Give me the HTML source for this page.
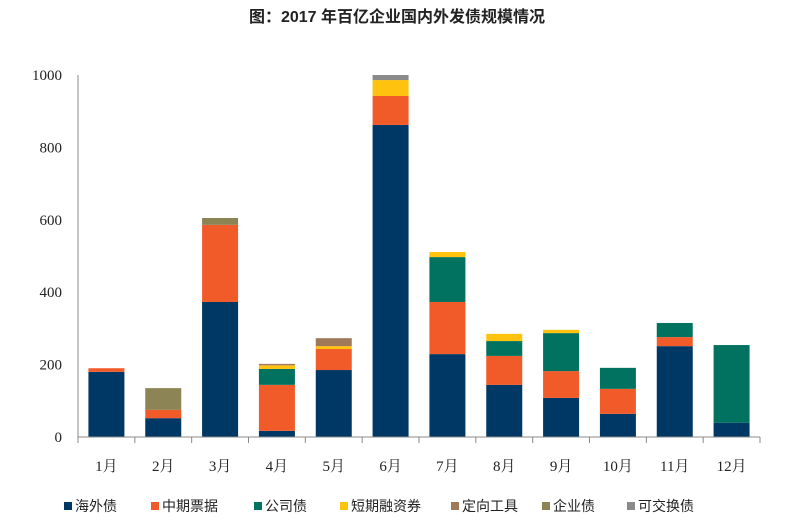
<!DOCTYPE html>
<html><head><meta charset="utf-8"><style>
body{margin:0;background:#fff;}
svg{display:block;font-family:"Liberation Serif","Noto Serif CJK SC",serif;}
</style></head><body>
<svg id="c" width="794" height="529">
<text x="397" y="22" text-anchor="middle" font-size="16" font-weight="bold" fill="#222" font-family="Liberation Sans,Noto Sans CJK SC,sans-serif">图：2017 年百亿企业国内外发债规模情况</text>
</svg>
<script>
const categories=["1月","2月","3月","4月","5月","6月","7月","8月","9月","10月","11月","12月"];
const seriesNames=["海外债","中期票据","公司债","短期融资券","定向工具","企业债","可交换债"];
const overseas=[180,52,373,17,185,862,229,144,108,64,251,39];
const mtn=[10,23,213,127,58,80,144,80,74,69,25,0];
const corp=[0,0,0,44,0,0,124,41,105,58,39,215];
const cp=[0,0,0,10,8,44,14,20,9,0,0,0];
const ppn=[0,0,0,4,22,0,0,0,0,0,0,0];
const ent=[0,60,19,0,0,0,0,0,0,0,0,0];
const exch=[0,0,0,0,0,14,0,0,0,0,0,0];
const yTicks=[0,200,400,600,800,1000];
const colors=["#003865","#F15A29","#00725F","#FFC20E","#A0785A","#8C8455","#8A8A8A"];
const series=[overseas,mtn,corp,cp,ppn,ent,exch];
const svg=document.getElementById('c');const NS="http://www.w3.org/2000/svg";
const L=78,R=760,T=75,B=437,yMax=1000;
const y=v=>B-(v/yMax)*(B-T);
const bw=(R-L)/categories.length;
const xc=i=>L+bw*(i+0.5);
function mk(t,a){const e=document.createElementNS(NS,t);for(const k in a)e.setAttribute(k,a[k]);svg.appendChild(e);return e;}
yTicks.forEach(v=>{const t=mk('text',{x:62,y:y(v)+5,'text-anchor':'end','font-size':15,fill:'#222'});t.textContent=v;

});
categories.forEach((c,i)=>{let acc=0;series.forEach((s,k)=>{const v=s[i];if(v>0){const r=mk('rect',{x:xc(i)-18,y:y(acc+v),width:36,height:y(acc)-y(acc+v),fill:colors[k]});

}acc+=v;});
const t=mk('text',{x:xc(i),y:471,'text-anchor':'middle','font-size':15,fill:'#222'});t.textContent=c;


const tk=mk('line',{x1:L+bw*(i+1),x2:L+bw*(i+1),y1:B,y2:B+6,stroke:'#888'});

});
const ax=mk('line',{x1:L,x2:R,y1:B,y2:B,stroke:'#888'});


const ay=mk('line',{x1:L,x2:L,y1:T,y2:B+6,stroke:'#888'});


const lx=[64,151,254,340,451,542,627];
seriesNames.forEach((n,k)=>{const r=mk('rect',{x:lx[k],y:502,width:8,height:8,fill:colors[k]});


const t=mk('text',{x:lx[k]+11,y:511,'font-size':14,fill:'#222','font-family':'Liberation Sans,Noto Sans CJK SC,sans-serif'});t.textContent=n;

});
</script>
</body></html>
